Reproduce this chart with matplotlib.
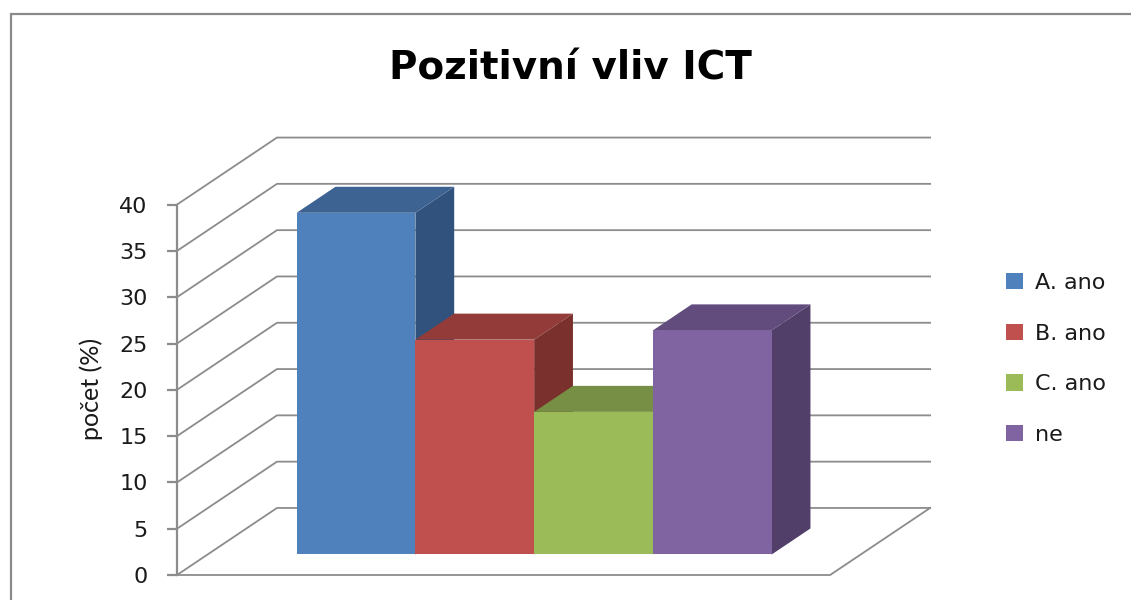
import matplotlib
matplotlib.use("Agg")
import matplotlib.pyplot as plt
from matplotlib.patches import Polygon, Rectangle

# data
categories = ["A. ano", "B. ano", "C. ano", "ne"]
values = [36.9, 23.2, 15.4, 24.2]
y_ticks = [0, 5, 10, 15, 20, 25, 30, 35, 40]
title = "Pozitivní vliv ICT"
ylabel = "počet (%)"

front_colors = ["#4F81BD", "#C0504D", "#9BBB59", "#8064A2"]
top_colors = ["#3D6392", "#923B38", "#778F44", "#624B7D"]
side_colors = ["#31527D", "#7A302D", "#647A38", "#523F69"]
GRID = "#8C8C8C"

# oblique 3d projection, in data units (x: one category, y: percent)
DX, DY = 0.842, 7.24        # full depth of the wall
D0, D1 = 0.306, 0.694       # depth of the bar front / back
FLOOR_W = 5.5
YMAX = 40


def shift(x, y, d):
    return x + d * DX, y + d * DY


fig = plt.figure(figsize=(11.31, 6.0), dpi=100)
ax = fig.add_axes([0, 0, 1, 1])
ax.set_xlim(-177 / 118.75, (1131 - 177) / 118.75)
ax.set_ylim((575 - 600) / 9.26, 575 / 9.26)
ax.set_facecolor("none")

# walls: gridlines turn the corner from the side wall onto the back wall
for v in y_ticks:
    bx, by = shift(0, v, 1)
    ax.plot([0, bx, FLOOR_W + DX], [v, by, by], color=GRID, lw=1.3,
            solid_joinstyle="miter", zorder=1)
# floor
ax.plot([0, FLOOR_W, FLOOR_W + DX], [0, 0, DY], color=GRID, lw=1.3, zorder=1)

# bars
for i, (cat, v) in enumerate(zip(categories, values)):
    left = 0.75 + i
    right = left + 1
    fx, fy = shift(left, 0, D0)
    ax.bar(fx, v, width=1, bottom=fy, align="edge", color=front_colors[i],
           label=cat, zorder=3 + i * 3 + 2, linewidth=0)
    side = [shift(right, 0, D0), shift(right, 0, D1),
            shift(right, v, D1), shift(right, v, D0)]
    top = [shift(left, v, D0), shift(right, v, D0),
           shift(right, v, D1), shift(left, v, D1)]
    ax.add_patch(Polygon(side, closed=True, facecolor=side_colors[i],
                         edgecolor="none", zorder=3 + i * 3))
    ax.add_patch(Polygon(top, closed=True, facecolor=top_colors[i],
                         edgecolor="none", zorder=3 + i * 3 + 1))

# value axis on the front edge
for s in ["top", "right", "bottom"]:
    ax.spines[s].set_visible(False)
ax.spines["left"].set_position(("data", 0))
ax.spines["left"].set_bounds(0, YMAX)
ax.spines["left"].set_color(GRID)
ax.spines["left"].set_linewidth(1.6)
ax.set_xticks([])
ax.set_yticks(y_ticks)
ax.tick_params(axis="y", direction="out", length=7.2, width=1.6, color=GRID,
               pad=14, labelsize=16, labelcolor="#1a1a1a")

fig.text(0.0805, (600 - 389) / 600, ylabel, rotation=90, ha="center",
         va="center", fontsize=18, family="Lato", color="#1a1a1a")
fig.text(0.504, (600 - 80) / 600, title, ha="center", va="baseline",
         fontsize=28, fontweight="bold", family="DejaVu Sans", color="black")

ax.legend(loc="upper left", bbox_to_anchor=(997 / 1131, (600 - 264) / 600),
          bbox_transform=fig.transFigure, frameon=False, fontsize=16,
          handlelength=0.75, handleheight=0.75, handletextpad=0.55,
          labelspacing=1.38, borderaxespad=0, labelcolor="#1a1a1a")

# chart frame (cut off at the right and bottom)
fig.add_artist(Rectangle((11 / 1131, -0.05), 1.2, (600 - 14) / 600 + 0.05,
                         transform=fig.transFigure, fill=False,
                         edgecolor="#8A8A8A", lw=1.6))

fig.savefig("out.png", dpi=100)
